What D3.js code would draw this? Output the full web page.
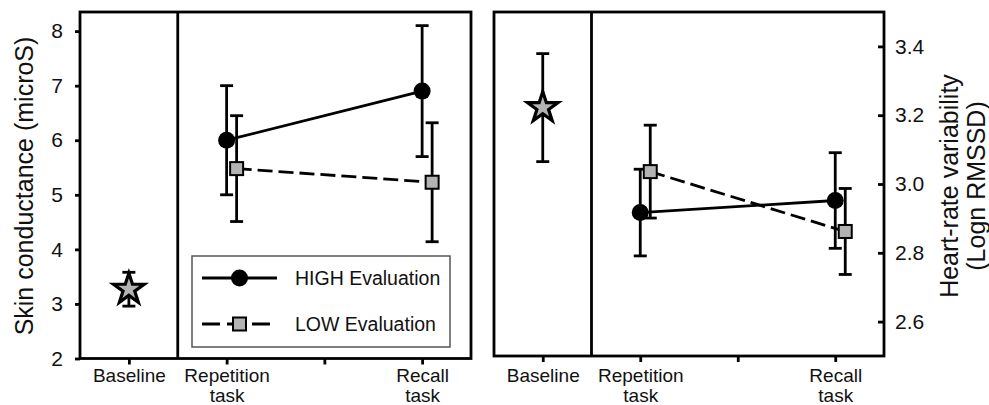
<!DOCTYPE html>
<html>
<head>
<meta charset="utf-8">
<script src="https://cdnjs.cloudflare.com/ajax/libs/d3/7.8.5/d3.min.js"></script>
<style>
  body { margin: 0; background: #fff; }
  svg text { font-family: "Liberation Sans", Arial, sans-serif; fill: #111; }
</style>
</head>
<body>
<div id="chart"></div>
<script>
"use strict"

//-----------------------------DATA-----------------------------//
const xTicks = ["Baseline", "Repetition task", "", "Recall task"];
const tasks = ["Repetition task", "Recall task"];
const seriesNames = ["HIGH Evaluation", "LOW Evaluation"];

// skin conductance (microS), mean and +/- error
const scTicks = [2, 3, 4, 5, 6, 7, 8];
const scBaseline = [3.27];
const scBaselineErr = [0.31];
const scHigh = [6.00, 6.90];
const scHighErr = [1.00, 1.20];
const scLow = [5.48, 5.23];
const scLowErr = [0.97, 1.09];

// heart-rate variability (Logn RMSSD)
const hrvTicks = [2.6, 2.8, 3.0, 3.2, 3.4];
const hrvBaseline = [3.222];
const hrvBaselineErr = [0.157];
const hrvHigh = [2.917, 2.952];
const hrvHighErr = [0.126, 0.139];
const hrvLow = [3.036, 2.862];
const hrvLowErr = [0.135, 0.125];

//------------------------1. PREPARATION------------------------//
const width = 989;
const height = 405;
const plotTop = 12;
const labelY = 382;
const dodge = 10;
const capW = 6.5;
const lw = 2.8;
const grey = "#b3b3b3";

const svg = d3.select("#chart").append("svg")
    .attr("width", width)
    .attr("height", height);

const star = d3.symbol().type(d3.symbolStar).size(290);

//-------------------------2. DRAWING---------------------------//
const drawPanel = (cfg) => {
    const g = svg.append("g");
    const x = d3.scalePoint().domain(xTicks).range([cfg.left, cfg.right]).padding(0.5);
    const y = d3.scaleLinear().domain(cfg.domain).range([cfg.bottom, plotTop]);

    const series = [
        { name: seriesNames[0], values: cfg.high, err: cfg.highErr, off: 0, dash: null },
        { name: seriesNames[1], values: cfg.low, err: cfg.lowErr, off: dodge, dash: "15,6" }
    ];

    //----------------------------AXES------------------------------//
    const xaxis = d3.axisBottom(x).tickSize(6).tickSizeOuter(0).tickFormat("");
    const xg = g.append("g")
        .attr("transform", "translate(0," + cfg.bottom + ")")
        .call(xaxis);
    xg.select(".domain").remove();
    xg.selectAll(".tick").each(function (d) {
        const t = d3.select(this).select("text")
            .attr("dy", null)
            .attr("y", labelY - cfg.bottom)
            .style("font-size", "19px");
        d.split(" ").forEach((w, i) => {
            t.append("tspan").attr("x", 0).attr("dy", i ? "1.07em" : 0).text(w);
        });
    });

    const yaxis = cfg.side === "left"
        ? d3.axisLeft(y).tickValues(cfg.ticks).tickSize(5).tickPadding(12).tickFormat(d3.format("d"))
        : d3.axisRight(y).tickValues(cfg.ticks).tickSize(-6).tickPadding(11).tickFormat(d3.format(".1f"));
    const yg = g.append("g")
        .attr("transform", "translate(" + (cfg.side === "left" ? cfg.left : cfg.right) + ",0)")
        .call(yaxis);
    yg.select(".domain").remove();
    yg.selectAll(".tick text").style("font-size", "21px");

    g.selectAll(".tick line").attr("stroke", "#000").attr("stroke-width", lw);

    // box and divider
    g.append("rect")
        .attr("x", cfg.left).attr("y", plotTop)
        .attr("width", cfg.right - cfg.left).attr("height", cfg.bottom - plotTop)
        .attr("fill", "none").attr("stroke", "#000").attr("stroke-width", lw);
    const divX = (x(xTicks[0]) + x(xTicks[1])) / 2;
    g.append("line")
        .attr("x1", divX).attr("x2", divX).attr("y1", plotTop).attr("y2", cfg.bottom)
        .attr("stroke", "#000").attr("stroke-width", lw);

    //----------------------------LINES-----------------------------//
    series.forEach(s => {
        const line = d3.line()
            .x((d, i) => x(tasks[i]) + s.off)
            .y(d => y(d));
        g.append("path")
            .datum(s.values)
            .attr("d", line)
            .attr("fill", "none")
            .attr("stroke", "#000")
            .attr("stroke-width", lw)
            .attr("stroke-dasharray", s.dash);
    });

    // error bars
    const errBar = (cx, m, e) => {
        const eg = g.append("g").attr("stroke", "#000").attr("stroke-width", lw);
        eg.append("line").attr("x1", cx).attr("x2", cx).attr("y1", y(m - e)).attr("y2", y(m + e));
        [m - e, m + e].forEach(v => {
            eg.append("line").attr("x1", cx - capW).attr("x2", cx + capW).attr("y1", y(v)).attr("y2", y(v));
        });
    };
    errBar(x(xTicks[0]), cfg.base[0], cfg.baseErr[0]);
    series.forEach(s => s.values.forEach((v, i) => errBar(x(tasks[i]) + s.off, v, s.err[i])));

    //---------------------------MARKERS----------------------------//
    g.append("path")
        .attr("d", star)
        .attr("transform", "translate(" + x(xTicks[0]) + "," + y(cfg.base[0]) + ")")
        .attr("fill", grey).attr("stroke", "#000").attr("stroke-width", 3.2)
        .attr("stroke-linejoin", "miter");

    g.selectAll(".dot")
        .data(series[0].values)
        .enter().append("circle")
        .attr("cx", (d, i) => x(tasks[i]))
        .attr("cy", d => y(d))
        .attr("r", 8.5)
        .attr("fill", "#000");

    g.selectAll(".sq")
        .data(series[1].values)
        .enter().append("rect")
        .attr("x", (d, i) => x(tasks[i]) + dodge - 6.5)
        .attr("y", d => y(d) - 6.5)
        .attr("width", 13).attr("height", 13)
        .attr("fill", grey).attr("stroke", "#000").attr("stroke-width", 2);

    return g;
};

drawPanel({
    left: 80, right: 471, bottom: 358.5, side: "left",
    domain: [2, 8.35], ticks: scTicks,
    base: scBaseline, baseErr: scBaselineErr,
    high: scHigh, highErr: scHighErr, low: scLow, lowErr: scLowErr
});

drawPanel({
    left: 494, right: 884, bottom: 356, side: "right",
    domain: [2.5, 3.5], ticks: hrvTicks,
    base: hrvBaseline, baseErr: hrvBaselineErr,
    high: hrvHigh, highErr: hrvHighErr, low: hrvLow, lowErr: hrvLowErr
});

//----------------------------TITLES----------------------------//
svg.append("text")
    .attr("transform", "translate(33,186) rotate(-90)")
    .attr("text-anchor", "middle")
    .style("font-size", "25px")
    .text("Skin conductance (microS)");

const rt = svg.append("text")
    .attr("transform", "translate(958,186) rotate(-90)")
    .attr("text-anchor", "middle")
    .style("font-size", "25px");
rt.append("tspan").attr("x", 0).text("Heart-rate variability");
rt.append("tspan").attr("x", 0).attr("dy", "1.08em").text("(Logn RMSSD)");

//----------------------------LEGEND----------------------------//
const lg = svg.append("g");
lg.append("rect")
    .attr("x", 192).attr("y", 256).attr("width", 258).attr("height", 91)
    .attr("fill", "#fff").attr("stroke", "#555").attr("stroke-width", 1.5);

seriesNames.forEach((name, i) => {
    const ly = 278 + i * 46;
    lg.append("line")
        .attr("x1", 202).attr("x2", 277).attr("y1", ly).attr("y2", ly)
        .attr("stroke", "#000").attr("stroke-width", lw)
        .attr("stroke-dasharray", i ? "18,7" : null);
    if (i === 0) {
        lg.append("circle").attr("cx", 239.5).attr("cy", ly).attr("r", 8.5).attr("fill", "#000");
    } else {
        lg.append("rect").attr("x", 233).attr("y", ly - 6.5).attr("width", 13).attr("height", 13)
            .attr("fill", grey).attr("stroke", "#000").attr("stroke-width", 2);
    }
    lg.append("text")
        .attr("x", 295).attr("y", ly).attr("dy", "0.35em")
        .style("font-size", "19.5px")
        .text(name);
});
</script>
</body>
</html>
